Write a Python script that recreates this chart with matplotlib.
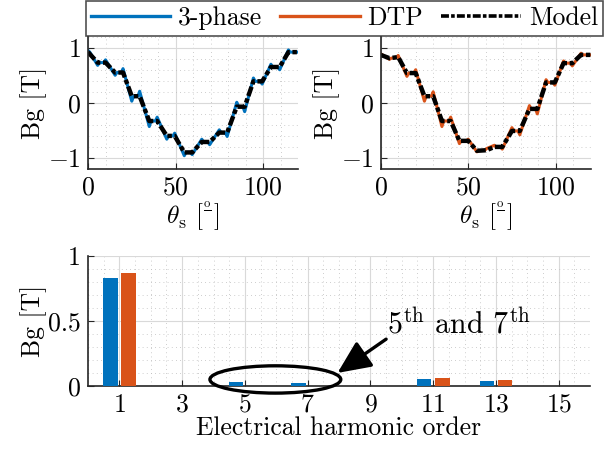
import numpy as np
import matplotlib.pyplot as plt
from matplotlib.patches import Ellipse
from matplotlib.ticker import MultipleLocator

plt.rcParams['font.family'] = 'serif'
plt.rcParams['font.serif'] = ['cmr10']
plt.rcParams['mathtext.fontset'] = 'cm'
plt.rcParams['axes.formatter.use_mathtext'] = True
plt.rcParams['font.size'] = 18.5

C_3PH = '#0072BD'
C_DTP = '#D95319'

# ---- air-gap flux density vs rotor angle (3-phase machine) ----
th_3ph = [0, 1, 5.5, 6.5, 9, 10, 15.5, 16.5, 19, 20, 25, 26, 28.5, 29.5,
          35, 36, 38.5, 39.5, 45, 46, 48.5, 49.5, 55, 56, 58.5, 59.5,
          65, 66, 68.5, 69.5, 75, 76, 78.5, 79.5, 85, 86, 88.5, 89.5,
          94.5, 95.5, 98.5, 99.5, 104.5, 105.5, 108.5, 109.5, 114.5, 115.5, 120]
bg_3ph = [0.95, 0.92, 0.68, 0.73, 0.73, 0.78, 0.50, 0.55, 0.55, 0.62, 0.03, 0.12, 0.12, 0.21,
          -0.43, -0.33, -0.33, -0.26, -0.66, -0.60, -0.60, -0.55, -0.96, -0.90, -0.90, -0.94,
          -0.66, -0.71, -0.71, -0.76, -0.49, -0.54, -0.54, -0.61, 0.01, -0.07, -0.07, -0.16,
          0.45, 0.39, 0.39, 0.34, 0.70, 0.65, 0.65, 0.60, 0.96, 0.92, 0.92]
th_3ph_mod = [0, 5.5, 10, 15.5, 20, 25, 29.5, 35, 39.5, 45, 49.5, 55, 59.5,
              65, 69.5, 75, 79.5, 85, 89.5, 94.5, 99.5, 104.5, 109.5, 114.5, 120]
bg_3ph_mod = [0.92, 0.73, 0.73, 0.55, 0.55, 0.12, 0.12, -0.33, -0.33, -0.60, -0.60, -0.90, -0.90,
              -0.71, -0.71, -0.54, -0.54, -0.07, -0.07, 0.39, 0.39, 0.65, 0.65, 0.92, 0.92]

# ---- air-gap flux density vs rotor angle (dual three-phase) ----
th_dtp = [0, 1, 5, 6, 9, 10, 15, 16, 19, 20, 25, 26, 29, 30,
          35, 36, 39, 40, 45, 46, 49, 50, 55, 56, 59.5, 60.5,
          65, 66, 68.5, 69.5, 75, 76, 78.5, 79.5, 85, 86, 88.5, 89.5,
          94.5, 95.5, 98.5, 99.5, 104.5, 105.5, 108.5, 109.5, 114.5, 115.5, 120]
bg_dtp = [0.89, 0.87, 0.79, 0.81, 0.82, 0.86, 0.48, 0.54, 0.54, 0.60, 0.03, 0.12, 0.12, 0.20,
          -0.43, -0.33, -0.33, -0.26, -0.74, -0.69, -0.69, -0.66, -0.89, -0.87, -0.86, -0.83,
          -0.77, -0.80, -0.80, -0.84, -0.45, -0.51, -0.51, -0.58, -0.05, -0.11, -0.11, -0.20,
          0.42, 0.37, 0.37, 0.32, 0.76, 0.72, 0.72, 0.67, 0.90, 0.87, 0.87]
th_dtp_mod = [0, 5, 10, 15, 20, 25, 30, 35, 40, 45, 50, 55, 60.5,
              65, 69.5, 75, 79.5, 85, 89.5, 94.5, 99.5, 104.5, 109.5, 114.5, 120]
bg_dtp_mod = [0.87, 0.81, 0.83, 0.54, 0.54, 0.12, 0.12, -0.33, -0.33, -0.69, -0.69, -0.87, -0.86,
              -0.80, -0.80, -0.51, -0.51, -0.11, -0.11, 0.37, 0.37, 0.72, 0.72, 0.87, 0.87]

# ---- harmonic spectrum ----
harm = [1, 3, 5, 7, 9, 11, 13, 15]
amp_3ph = [0.83, 0.002, 0.033, 0.020, 0.002, 0.054, 0.038, 0.002]
amp_dtp = [0.867, 0.002, 0.003, 0.003, 0.002, 0.059, 0.044, 0.002]

MODEL_DASH = (0, (2.2, 0.6, 1.0, 0.6))
THETA_LABEL = r'$\theta_{\rm s}$ [$^{\frac{\rm o}{\,}}$]'

fig = plt.figure(figsize=(6.13, 4.53), dpi=100)
ax1 = fig.add_axes([0.1436, 0.627, 0.3426, 0.292])
ax2 = fig.add_axes([0.621, 0.627, 0.3426, 0.292])
ax3 = fig.add_axes([0.1436, 0.148, 0.819, 0.287])


def style(ax):
    for s in ('top', 'right'):
        ax.spines[s].set_visible(False)
    for s in ('left', 'bottom'):
        ax.spines[s].set_linewidth(1.2)
        ax.spines[s].set_color('#262626')
    ax.tick_params(which='both', direction='in', length=4, colors='#262626',
                   labelcolor='black', pad=5)
    ax.tick_params(which='minor', length=0)
    ax.grid(which='major', color='#d9d9d9', linewidth=0.8)
    ax.grid(which='minor', color='#bdbdbd', linewidth=0.6, linestyle=(0, (1, 4)))
    ax.set_axisbelow(True)


for ax, th, bg, thm, bgm, col in [(ax1, th_3ph, bg_3ph, th_3ph_mod, bg_3ph_mod, C_3PH),
                                  (ax2, th_dtp, bg_dtp, th_dtp_mod, bg_dtp_mod, C_DTP)]:
    ax.plot(th, bg, color=col, linewidth=2.2)
    ax.plot(thm, bgm, color='black', linewidth=3.2, linestyle=MODEL_DASH)
    ax.set_xlim(0, 120)
    ax.set_ylim(-1.2, 1.2)
    ax.set_xticks([0, 50, 100])
    ax.set_yticks([-1, 0, 1])
    ax.xaxis.set_minor_locator(MultipleLocator(10))
    ax.yaxis.set_minor_locator(MultipleLocator(0.2))
    style(ax)
    ax.set_ylabel('Bg [T]', labelpad=1)
    ax.set_xlabel(THETA_LABEL, labelpad=0)

# ---- bar chart ----
x = np.array(harm)
ax3.bar(x - 0.29, amp_3ph, width=0.46, color=C_3PH, zorder=3)
ax3.bar(x + 0.29, amp_dtp, width=0.46, color=C_DTP, zorder=3)
ax3.set_xlim(0, 16)
ax3.set_ylim(0, 1)
ax3.set_xticks(harm)
ax3.set_yticks([0, 0.5, 1])
ax3.set_yticklabels(['0', '0.5', '1'])
ax3.xaxis.set_minor_locator(MultipleLocator(0.5))
ax3.yaxis.set_minor_locator(MultipleLocator(0.1))
style(ax3)
ax3.set_ylabel('Bg [T]', labelpad=1)
ax3.set_xlabel('Electrical harmonic order', labelpad=0)

ax3.add_patch(Ellipse((5.97, 0.05), 4.17, 0.21, fill=False, edgecolor='black',
                      linewidth=2.4, clip_on=False, zorder=5))
ax3.annotate('', xy=(7.95, 0.10), xytext=(9.5, 0.36),
             arrowprops=dict(arrowstyle='-|>,head_length=1.1,head_width=0.5',
                             color='black', linewidth=2.4, shrinkA=0, shrinkB=0),
             annotation_clip=False, zorder=6)
ax3.text(9.52, 0.395, r'5$^{\rm th}$ and 7$^{\rm th}$', fontsize=21.5,
         ha='left', va='baseline', zorder=6)

# ---- legend ----
h1, = ax1.plot([], [], color=C_3PH, linewidth=2.4, label='3-phase')
h2, = ax1.plot([], [], color=C_DTP, linewidth=2.4, label='DTP')
h3, = ax1.plot([], [], color='black', linewidth=2.6, linestyle=MODEL_DASH, label='Model')
leg = fig.legend(handles=[h1, h2, h3], loc='upper right', ncol=3,
                 bbox_to_anchor=(603 / 613, 1 - 1.5 / 453), frameon=True, fancybox=False,
                 edgecolor='#262626', handlelength=3.1, handletextpad=0.3,
                 columnspacing=0.7, borderpad=0.2, borderaxespad=0, fontsize=18.5)
leg.get_frame().set_linewidth(1.2)

fig.savefig('out.png', dpi=100)
